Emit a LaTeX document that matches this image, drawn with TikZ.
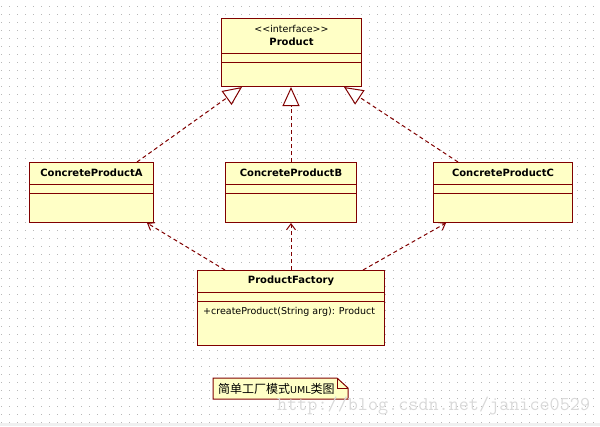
\documentclass[tikz,border=0pt]{standalone}
\usepackage{fontspec}
\setmainfont{DejaVu Sans}
\newfontfamily\cjk{Noto Sans CJK SC}
\usetikzlibrary{arrows.meta}
\definecolor{umlred}{HTML}{800000}
\definecolor{umlfill}{HTML}{FFFFC6}
\definecolor{dotgray}{HTML}{B8B8B8}

\tikzset{
  classbox/.style={draw=umlred, fill=umlfill, line width=1pt, inner sep=0pt, anchor=north west},
  divider/.style={draw=umlred, line width=1pt},
  classname/.style={font=\fontsize{10}{12}\selectfont\bfseries, inner sep=0pt},
  member/.style={font=\fontsize{9.5}{11}\selectfont, inner sep=0pt},
  realize/.style={draw=umlred, line width=1pt, dash pattern=on 4pt off 3pt,
    -{Triangle[open, length=19pt, width=17pt, fill=white]}},
  depend/.style={draw=umlred, line width=1pt, dash pattern=on 4pt off 3pt,
    -{Straight Barb[length=6pt, width=9pt]}},
}

\begin{document}
\begin{tikzpicture}[x=1pt, y=-1pt]
\useasboundingbox (0,0) rectangle (600,426);
% dotted grid
\foreach \x in {1,9,...,599}
  \foreach \y in {6,14,...,422}
    \fill [dotgray] (\x,\y) rectangle +(1,1);
\fill [gray!12] (0,423) rectangle (600,426);

% classes
\node [classbox, minimum width=140pt, minimum height=68pt] (product) at (221,18) {};
\node [classbox, minimum width=124pt, minimum height=60pt] (prodA) at (29,162) {};
\node [classbox, minimum width=131pt, minimum height=60pt] (prodB) at (225,162) {};
\node [classbox, minimum width=139pt, minimum height=60pt] (prodC) at (433,162) {};
\node [classbox, minimum width=187pt, minimum height=75pt] (factory) at (197,270) {};

\foreach \b/\d in {product/35, product/44, prodA/22, prodA/31, prodB/22, prodB/31,
                   prodC/22, prodC/31, factory/22, factory/31}
  \draw [divider] ([yshift=-\d pt]\b.north west) -- ([yshift=-\d pt]\b.north east);

\node [member] (stereo) at ([yshift=-11pt]product.north) {<\kern0pt<interface>\kern0pt>};
\node [classname] (productname) at ([yshift=-24pt]product.north) {Product};
\node [classname] (prodAname) at ([yshift=-11pt]prodA.north) {ConcreteProductA};
\node [classname] (prodBname) at ([yshift=-11pt]prodB.north) {ConcreteProductB};
\node [classname] (prodCname) at ([yshift=-11pt]prodC.north) {ConcreteProductC};
\node [classname] (factoryname) at ([yshift=-11pt]factory.north) {ProductFactory};
\node [member, anchor=west] (method) at ([xshift=6pt, yshift=-42pt]factory.north west)
  {+createProduct(String arg): Product};

% realization
\draw [realize] ([xshift=-17pt]prodA.north east) -- ([xshift=21pt]product.south west);
\draw [realize] (prodB.north) -- (prodB.north |- product.south);
\draw [realize] ([xshift=25pt]prodC.north west) -- ([xshift=-18pt]product.south east);

% dependency
\draw [depend] ([xshift=28pt]factory.north west) -- ([xshift=-7pt]prodA.south east);
\draw [depend] (factory.north) -- (prodB.south);
\draw [depend] ([xshift=-22pt]factory.north east) -- ([xshift=13pt]prodC.south west);

% note
\draw [umlred, fill=umlfill, line width=1pt]
  (213,378) -- (337,378) -- (348,388) -- (348,399) -- (213,399) -- cycle;
\draw [umlred, line width=1pt] (337,378) -- (337,388) -- (348,388);
\node [inner sep=0pt, anchor=west] (note) at (218,389)
  {{\cjk\fontsize{12}{14}\selectfont 简单工厂模式}{\fontsize{9.5}{11}\selectfont UML}{\cjk\fontsize{12}{14}\selectfont 类图}};

\node [inner sep=0pt, anchor=west, text=gray!30, font=\ttfamily\fontsize{19.6}{21}\selectfont]
  (watermark) at (277,406) {http://blog.csdn.net/janice0529};
\end{tikzpicture}
\end{document}
